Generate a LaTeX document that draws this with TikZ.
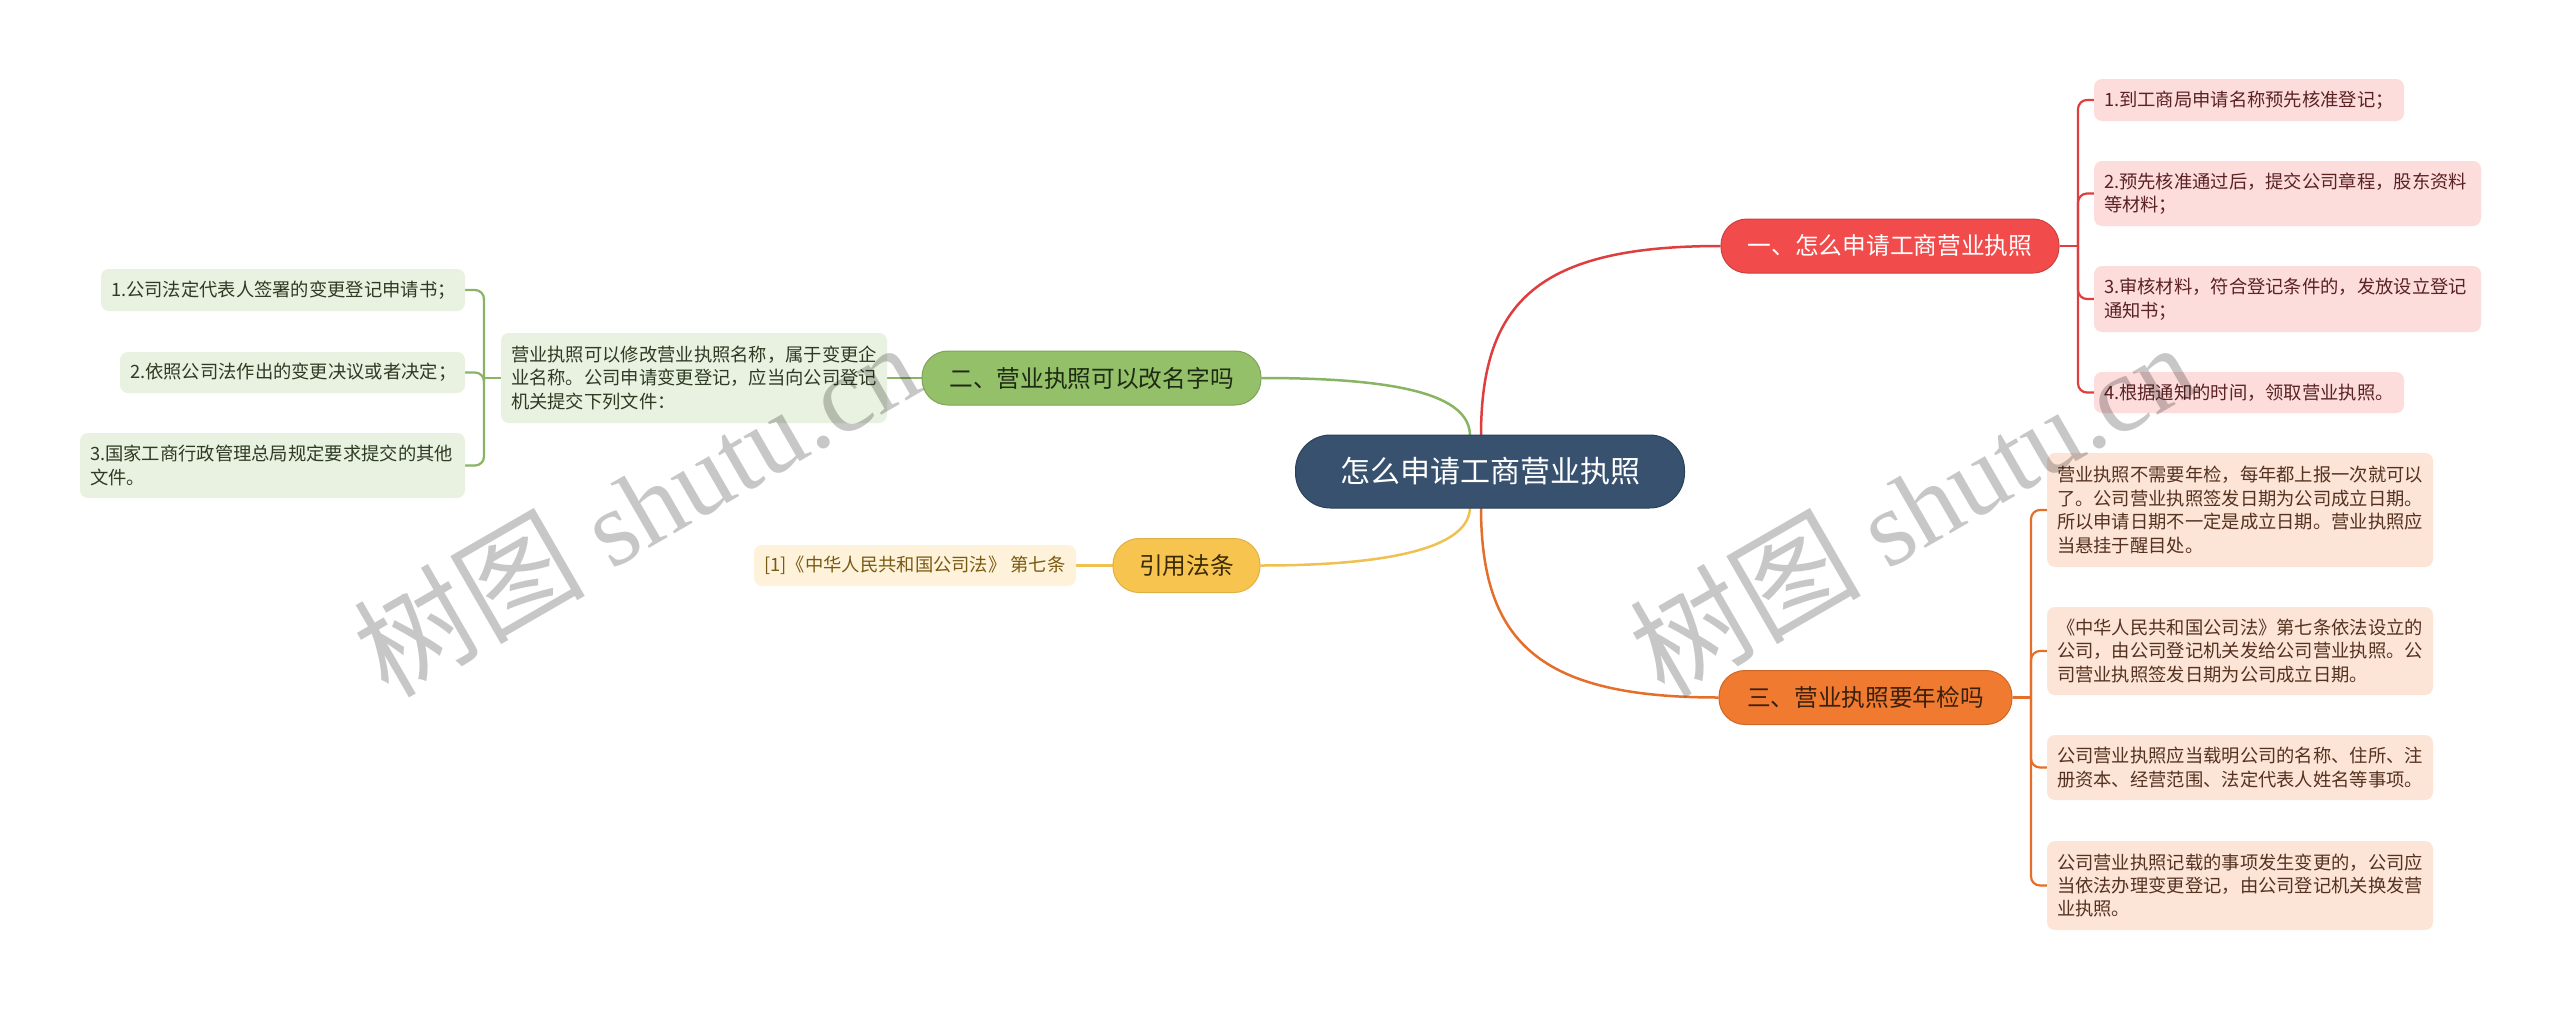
\documentclass[tikz,border=0pt]{standalone}
\usepackage{fontspec}
\setmainfont{Noto Sans CJK SC}
\newfontfamily\wmserif{Liberation Serif}
\usetikzlibrary{backgrounds}

\definecolor{rootc}{HTML}{37516F}
\definecolor{redc}{HTML}{F24B4B}
\definecolor{redl}{HTML}{DE3E3E}
\definecolor{redleaf}{HTML}{FDDCDC}
\definecolor{redtxt}{HTML}{5A2222}
\definecolor{orc}{HTML}{F07A30}
\definecolor{orl}{HTML}{E46E2A}
\definecolor{orleaf}{HTML}{FCE4D6}
\definecolor{ortxt}{HTML}{553220}
\definecolor{ordark}{HTML}{3A200E}
\definecolor{grc}{HTML}{94C06A}
\definecolor{grl}{HTML}{88B463}
\definecolor{grleaf}{HTML}{E9F1E0}
\definecolor{grtxt}{HTML}{2E3B22}
\definecolor{grdark}{HTML}{1E2A12}
\definecolor{yec}{HTML}{F7C54F}
\definecolor{yel}{HTML}{F0C050}
\definecolor{yeleaf}{HTML}{FEF3DA}
\definecolor{yetxt}{HTML}{7A5A12}
\definecolor{yedark}{HTML}{3A2A05}

\newcommand\rootfont{\fontsize{30}{36}\selectfont}
\newcommand\brfont{\fontsize{23.7}{28}\selectfont}
\newcommand\lffont{\fontsize{18.3}{23.5}\selectfont}
\newcommand\wmfont{\fontsize{116}{122}\selectfont}
\newcommand\wmlatin{\wmserif\fontsize{108}{114}\selectfont}

\tikzset{
  rootbox/.style={fill=rootc, draw=rootc!80!black, line width=1pt, rounded corners=35pt,
    text=white, font=\rootfont, minimum width=389pt, minimum height=73pt, inner sep=0pt},
  brbox/.style={rounded corners=26pt, minimum height=54pt, inner sep=0pt, font=\brfont, line width=1pt},
  lfbox/.style={rounded corners=8pt, inner xsep=10pt, inner ysep=0pt, align=left, font=\lffont},
  conn/.style={line width=2.5pt},
  subconn/.style={line width=2.2pt, rounded corners=9pt},
  wm/.style={rotate=30, anchor=base west, text=black, text opacity=0.22, font=\wmfont, inner sep=0pt}
}

\begin{document}
\begin{tikzpicture}[x=1pt,y=-1pt]
\useasboundingbox (0,0) rectangle (2560,1009);

% root
\node[rootbox] (root) at (1490,471.5) {怎么申请工商营业执照};

% red branch
\node[brbox, fill=redc, draw=redc!85!black, text=white, minimum width=338pt] (R) at (1890,246) {一、怎么申请工商营业执照};
\node[lfbox, fill=redleaf, text=redtxt, text width=290pt, minimum height=42pt] (rl1) at (2249,100) {1.到工商局申请名称预先核准登记；};
\node[lfbox, fill=redleaf, text=redtxt, text width=367pt, minimum height=65pt] (rl2) at (2287.5,193.5) {2.预先核准通过后，提交公司章程，股东资料\\等材料；};
\node[lfbox, fill=redleaf, text=redtxt, text width=367pt, minimum height=66pt] (rl3) at (2287.5,299) {3.审核材料，符合登记条件的，发放设立登记\\通知书；};
\node[lfbox, fill=redleaf, text=redtxt, text width=290pt, minimum height=41pt] (rl4) at (2249,392.5) {4.根据通知的时间，领取营业执照。};

% orange branch
\node[brbox, fill=orc, draw=orc!85!black, text=ordark, minimum width=293pt] (O) at (1865.5,697.5) {三、营业执照要年检吗};
\node[lfbox, fill=orleaf, text=ortxt, text width=366pt, minimum height=114pt] (ol1) at (2240,510) {营业执照不需要年检，每年都上报一次就可以\\了。公司营业执照签发日期为公司成立日期。\\所以申请日期不一定是成立日期。营业执照应\\当悬挂于醒目处。};
\node[lfbox, fill=orleaf, text=ortxt, text width=366pt, minimum height=88pt] (ol2) at (2240,651) {《中华人民共和国公司法》第七条依法设立的\\公司，由公司登记机关发给公司营业执照。公\\司营业执照签发日期为公司成立日期。};
\node[lfbox, fill=orleaf, text=ortxt, text width=366pt, minimum height=65pt] (ol3) at (2240,767.5) {公司营业执照应当载明公司的名称、住所、注\\册资本、经营范围、法定代表人姓名等事项。};
\node[lfbox, fill=orleaf, text=ortxt, text width=366pt, minimum height=89pt] (ol4) at (2240,885.5) {公司营业执照记载的事项发生变更的，公司应\\当依法办理变更登记，由公司登记机关换发营\\业执照。};

% green branch
\node[brbox, fill=grc, draw=grc!85!black, text=grdark, minimum width=339pt] (G) at (1091.5,378) {二、营业执照可以改名字吗};
\node[lfbox, fill=grleaf, text=grtxt, text width=366pt, minimum height=90pt] (gm) at (694,378) {营业执照可以修改营业执照名称，属于变更企\\业名称。公司申请变更登记，应当向公司登记\\机关提交下列文件：};
\node[lfbox, fill=grleaf, text=grtxt, text width=344pt, minimum height=42pt] (gl1) at (283,290) {1.公司法定代表人签署的变更登记申请书；};
\node[lfbox, fill=grleaf, text=grtxt, text width=325pt, minimum height=41pt] (gl2) at (292.5,372.5) {2.依照公司法作出的变更决议或者决定；};
\node[lfbox, fill=grleaf, text=grtxt, text width=365pt, minimum height=65pt] (gl3) at (272.5,465.5) {3.国家工商行政管理总局规定要求提交的其他\\文件。};

% yellow branch
\node[brbox, fill=yec, draw=yec!90!black, text=yedark, minimum width=147pt] (Y) at (1186.5,565.5) {引用法条};
\node[lfbox, fill=yeleaf, text=yetxt, minimum width=322pt, minimum height=41pt, align=center] (yl) at (915,565.5) {[1]《中华人民共和国公司法》 第七条};

% connector anchor points on the root
\coordinate (rootR) at (1481,436);
\coordinate (rootO) at (1481,507);
\coordinate (rootG) at (1470,436);
\coordinate (rootY) at (1470,507);
\coordinate (rb) at (2078,246);
\coordinate (ob) at (2031,697.5);
\coordinate (gb) at (484,378);

\begin{scope}[on background layer]
  \fill[white] (0,0) rectangle (2560,1009);
  \draw[conn, redl] (rootR) .. controls (1481,300) and (1540,246) .. (R.west);
  \draw[conn, orl] (rootO) .. controls (1481,644) and (1541,697.5) .. (O.west);
  \draw[conn, grl] (rootG) .. controls (1470,395) and (1400,378) .. (G.east);
  \draw[conn, yel] (rootY) .. controls (1470,545) and (1400,565.5) .. (Y.east);

  \draw[subconn, redl] (R.east) -- (rb);
  \foreach \n in {rl1,rl2,rl3,rl4} \draw[subconn, redl] (rb) |- (\n.west);
  \draw[subconn, orl] (O.east) -- (ob);
  \foreach \n in {ol1,ol2,ol3,ol4} \draw[subconn, orl] (ob) |- (\n.west);
  \draw[subconn, grl] (G.west) -- (gm.east);
  \draw[subconn, grl] (gm.west) -- (gb);
  \foreach \n in {gl1,gl2,gl3} \draw[subconn, grl] (gb) |- (\n.east);
  \draw[subconn, yel] (Y.west) -- (yl.east);
\end{scope}

% watermarks
\node[wm] (wm1) at (388,700) {树图 {\wmlatin shutu.cn}};
\node[wm] (wm2) at (1664,700) {树图 {\wmlatin shutu.cn}};
\end{tikzpicture}
\end{document}
